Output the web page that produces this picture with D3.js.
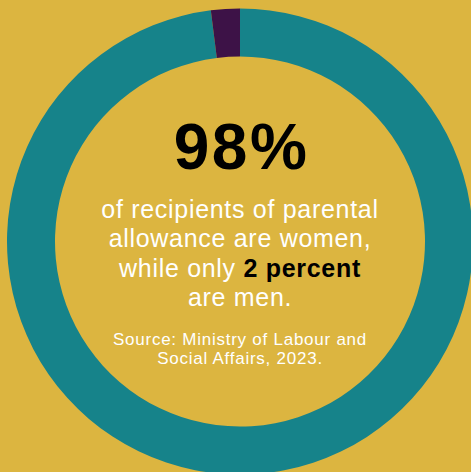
<!DOCTYPE html>
<meta charset="utf-8">
<script src="https://d3js.org/d3.v7.min.js"></script>
<style>
  body { margin: 0; background: #DCB540; }
  svg { display: block; font-family: "Liberation Sans", Arial, sans-serif; }
</style>
<body>
<svg id="chart" width="471" height="472"></svg>
<script>
// shares of parental allowance recipients
var groups = ["Women", "Men"];
var shares = [98, 2];
var colors = ["#16838A", "#3D1247"];

var headline = "98%";
var bodyLines = [
  [{t: "of recipients of parental"}],
  [{t: "allowance are women,"}],
  [{t: "while only "}, {t: "2 percent", b: true}],
  [{t: "are men."}]
];
var sourceLines = ["Source: Ministry of Labour and", "Social Affairs, 2023."];

var cx = 240, cy = 241.5,
    rOuter = 233, rInner = 185;

var svg = d3.select("#chart");
svg.append("rect").attr("width", 471).attr("height", 472).attr("fill", "#DCB540");

var pie = d3.pie().sort(null).value(function(d) { return d; });
var arc = d3.arc().innerRadius(rInner).outerRadius(rOuter);

var g = svg.append("g").attr("transform", "translate(" + cx + "," + cy + ")");
g.selectAll("path")
  .data(pie(shares))
  .enter().append("path")
  .attr("d", arc)
  .attr("fill", function(d, i) { return colors[i]; });

// centre text (letter-spacing adds a trailing gap, so nudge x by half of it)
g.append("text")
  .attr("x", 1.5).attr("y", 169 - cy)
  .attr("text-anchor", "middle")
  .attr("font-size", 64).attr("font-weight", "bold")
  .attr("letter-spacing", 2.5)
  .attr("fill", "#000")
  .text(headline);

var body = g.append("text")
  .attr("text-anchor", "middle")
  .attr("font-size", 25)
  .attr("letter-spacing", 0.7)
  .attr("fill", "#fff");
bodyLines.forEach(function(line, i) {
  var t = body.append("tspan").attr("x", 0).attr("y", 217.5 - cy + i * 29.5);
  line.forEach(function(p) {
    var s = t.append("tspan").text(p.t);
    if (p.b) s.attr("font-weight", "bold").attr("fill", "#000");
  });
});

g.selectAll(".src")
  .data(sourceLines)
  .enter().append("text")
  .attr("class", "src")
  .attr("x", 0)
  .attr("y", function(d, i) { return 344.5 - cy + i * 19.5; })
  .attr("text-anchor", "middle")
  .attr("font-size", 17)
  .attr("letter-spacing", 0.75)
  .attr("fill", "#fff")
  .text(function(d) { return d; });
</script>
</body>
